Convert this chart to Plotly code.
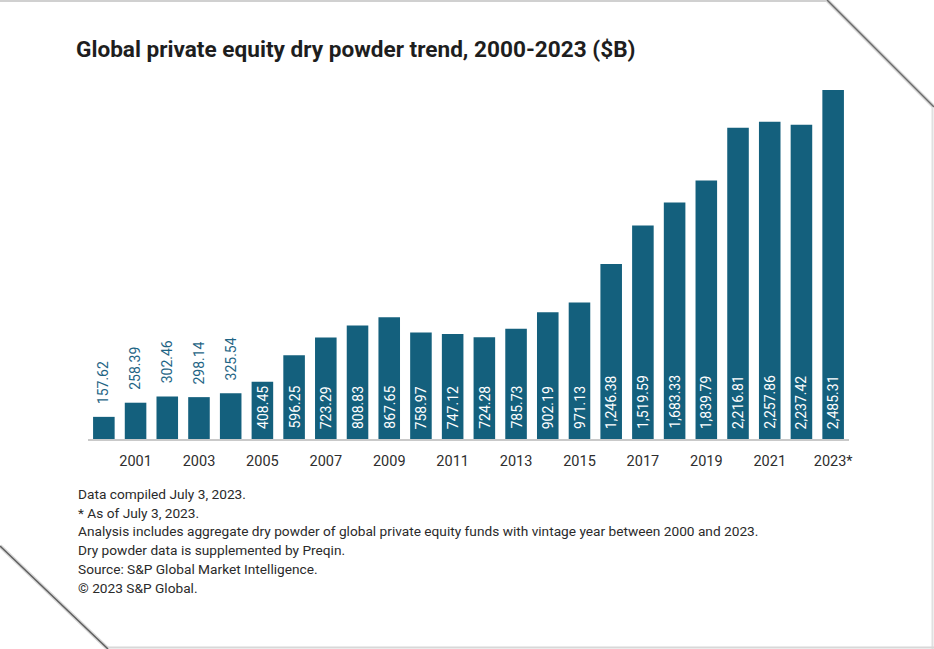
import plotly.graph_objects as go

years = [str(y) for y in range(2000, 2023)] + ["2023*"]
dry_powder = [157.62, 258.39, 302.46, 298.14, 325.54, 408.45, 596.25, 723.29,
              808.83, 867.65, 758.97, 747.12, 724.28, 785.73, 902.19, 971.13,
              1246.38, 1519.59, 1683.33, 1839.79, 2216.81, 2257.86, 2237.42, 2485.31]
tick_labels = years[1::2]

title_text = "Global private equity dry powder trend, 2000-2023 ($B)"
footnotes = [
    "Data compiled July 3, 2023.",
    "* As of July 3, 2023.",
    "Analysis includes aggregate dry powder of global private equity funds with vintage year between 2000 and 2023.",
    "Dry powder data is supplemented by Preqin.",
    "Source: S&P Global Market Intelligence.",
    "\u00a9 2023 S&P Global.",
]

W, H = 934, 649
L, R, T, B = 88, 85, 80, 210
PW, PH = W - L - R, H - T - B
BAR = "#14607D"
OUT_TXT = "#1F6585"
FONT = "Roboto, Liberation Sans, Arial, sans-serif"


def px(x):
    return (x - L) / PW


def py(y):
    return (H - B - y) / PH


fig = go.Figure()
fig.add_trace(go.Bar(x=years, y=dry_powder, marker=dict(color=BAR, line=dict(width=0)),
                     hoverinfo="skip"))

annotations = []
for i, v in enumerate(dry_powder):
    lab = f"{v:,.2f}"
    if v < 400:
        annotations.append(dict(x=i, y=v, xref="x", yref="y", text=lab, textangle=-90,
                                showarrow=False, yanchor="bottom", xanchor="center", yshift=11,
                                font=dict(family=FONT, size=14, color=OUT_TXT)))
    else:
        annotations.append(dict(x=i, y=0, xref="x", yref="y", text=lab, textangle=-90,
                                showarrow=False, yanchor="bottom", xanchor="center", yshift=8,
                                font=dict(family=FONT, size=14, color="white")))

for i, line in enumerate(footnotes):
    annotations.append(dict(x=px(76), y=py(494 + 18.7 * i), xref="paper", yref="paper",
                            text=line, showarrow=False, xanchor="left", yanchor="middle",
                            font=dict(family=FONT, size=13.7, color="#2a2a2a")))

shapes = [
    # page edges / folded-corner decoration
    dict(type="line", xref="paper", yref="paper", x0=px(0), y0=py(1), x1=px(827), y1=py(1),
         line=dict(color="#d0d0d0", width=2)),
    dict(type="line", xref="paper", yref="paper", x0=px(827), y0=py(0), x1=px(934), y1=py(107),
         line=dict(color="#d8d8d8", width=4)),
    dict(type="line", xref="paper", yref="paper", x0=px(827), y0=py(0), x1=px(934), y1=py(107),
         line=dict(color="#6a6a6a", width=1.5)),
    dict(type="line", xref="paper", yref="paper", x0=px(932.5), y0=py(107), x1=px(932.5), y1=py(649),
         line=dict(color="#e0e0e0", width=2)),
    dict(type="line", xref="paper", yref="paper", x0=px(108), y0=py(647.5), x1=px(934), y1=py(647.5),
         line=dict(color="#d8d8d8", width=2)),
    dict(type="line", xref="paper", yref="paper", x0=px(0), y0=py(546), x1=px(108), y1=py(649),
         line=dict(color="#d8d8d8", width=4)),
    dict(type="line", xref="paper", yref="paper", x0=px(0), y0=py(546), x1=px(108), y1=py(649),
         line=dict(color="#5e5e5e", width=1.5)),
]

fig.update_layout(
    width=W, height=H,
    margin=dict(l=L, r=R, t=T, b=B),
    paper_bgcolor="white", plot_bgcolor="white",
    bargap=0.32,
    showlegend=False,
    title=dict(text=title_text, x=76 / W, xanchor="left", xref="container",
               y=1 - 49 / H, yanchor="middle", yref="container",
               font=dict(family=FONT, size=22.6, color="#1e1e1e", weight=700)),
    xaxis=dict(type="category", tickvals=tick_labels, ticktext=tick_labels,
               showgrid=False, zeroline=False, showline=True, linecolor="#c9c9c9", linewidth=1.5,
               ticks="", ticklabelstandoff=8,
               tickfont=dict(family=FONT, size=14.5, color="#2e2e2e"),
               range=[-0.5, len(years) - 0.5], fixedrange=True),
    yaxis=dict(visible=False, range=[0, 2556], fixedrange=True),
    annotations=annotations,
    shapes=shapes,
)

fig.write_html("out.html", config={"displayModeBar": False},
               post_script="document.body.style.margin='0';")
